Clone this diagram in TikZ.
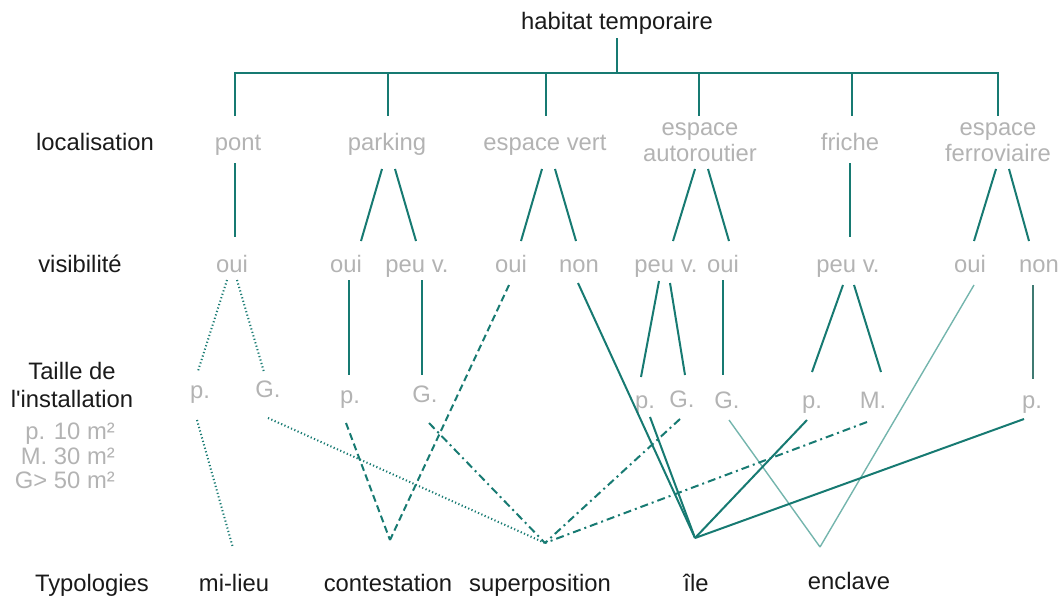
\documentclass[tikz,border=0pt]{standalone}
\usepackage{fontspec}
\setmainfont{Liberation Sans}
\usetikzlibrary{calc}
\definecolor{teal1}{HTML}{177A72}
\definecolor{tealdk}{HTML}{3F7A72}
\definecolor{teallt}{HTML}{74B5AD}
\definecolor{txtgray}{HTML}{B3B3B3}
\definecolor{txtblk}{HTML}{1A1A1A}
\begin{document}
\begin{tikzpicture}[x=1pt,y=-1pt,
  every node/.style={font=\fontsize{23.8}{26}\selectfont, inner sep=0pt},
  one/.style={text height=17pt, text depth=1pt},
  hd/.style={text=txtblk, one},
  gr/.style={text=txtgray, one},
  hdm/.style={text=txtblk, align=center},
  grm/.style={text=txtgray, align=center},
  cn/.style={draw=teal1, line width=2pt},
  dotl/.style={cn, line width=2pt, dash pattern=on 1.2pt off 2.4pt},
  dashl/.style={cn, dash pattern=on 7pt off 4pt},
  dashdotl/.style={cn, dash pattern=on 8pt off 4pt on 2pt off 4pt},
  thinl/.style={draw=teallt, line width=1.4pt},
  darkl/.style={draw=tealdk, line width=2pt}]
\useasboundingbox (0,0) rectangle (1062,597);
% titles
\node[hd] (top) at (617,21) {habitat temporaire};
\node[hd] (hloc) at (95,142) {localisation};
\node[hd] (hvis) at (80,264) {visibilité};
\node[hdm, font=\fontsize{23.8}{28}\selectfont] (htaille) at (72,385) {Taille de\\l\textquotesingle installation};
\node[grm, align=right, anchor=east, font=\fontsize{23.8}{24.5}\selectfont] (leg) at (115,456) {p. 10 m²\\M. 30 m²\\G> 50 m²};
\node[hd] (htyp) at (92,583) {Typologies};
% level 1
\node[gr] (pont) at (238,142) {pont};
\node[gr] (park) at (387,142) {parking};
\node[gr] (ev) at (545,142) {espace vert};
\node[grm, font=\fontsize{23.8}{26}\selectfont] (au) at (700,142) {espace\\autoroutier};
\node[gr] (fr) at (850,142) {friche};
\node[grm, font=\fontsize{23.8}{26}\selectfont] (fe) at (998,142) {espace\\ferroviaire};
% level 2
\node[gr] (ponto) at (232,264) {oui};
\node[gr] (pkoui) at (346,264) {oui};
\node[gr] (pkpeu) at (417,264) {peu v.};
\node[gr] (evoui) at (511,264) {oui};
\node[gr] (evnon) at (579,264) {non};
\node[gr] (aupeu) at (666,264) {peu v.};
\node[gr] (auoui) at (723,264) {oui};
\node[gr] (frpeu) at (848,264) {peu v.};
\node[gr] (feoui) at (970,264) {oui};
\node[gr] (fenon) at (1039,264) {non};
% level 3
\node[gr] (pp) at (200,390) {p.};
\node[gr] (pg) at (268,389) {G.};
\node[gr] (kp) at (350,395) {p.};
\node[gr] (kg) at (425,394) {G.};
\node[gr] (ap) at (645,400) {p.};
\node[gr] (ag) at (682,399) {G.};
\node[gr] (ag2) at (727,400) {G.};
\node[gr] (fp) at (812,400) {p.};
\node[gr] (fm) at (873,400) {M.};
\node[gr] (ep) at (1032,400) {p.};
% typologies
\node[hd] (mil) at (234,583) {mi-lieu};
\node[hd] (con) at (388,583) {contestation};
\node[hd] (sup) at (540,583) {superposition};
\node[hd] (ile) at (696,583) {île};
\node[hd] (enc) at (849,581) {enclave};
\coordinate (cmil) at (233,548);
\coordinate (ccon) at (390,540);
\coordinate (csup) at (545,543);
\coordinate (cile) at (695,538);
\coordinate (cenc) at (820,547);
% top tree
\coordinate (bar) at (617,73);
\draw[cn] ($(top)+(0,17)$) -- (bar);
\draw[cn] ($(pont)+(-3,-26)$) -- ($(pont)+(-3,-69)$) -- ($(fe)+(0,-69)$) -- ($(fe)+(0,-26)$);
\draw[cn] ($(park)+(1,-69)$) -- ($(park)+(1,-26)$);
\draw[cn] ($(ev)+(1,-69)$) -- ($(ev)+(1,-26)$);
\draw[cn] ($(au)+(-1,-69)$) -- ($(au)+(-1,-26)$);
\draw[cn] ($(fr)+(2,-69)$) -- ($(fr)+(2,-26)$);
% level 1 -> 2
\draw[cn] ($(pont)+(-3,21)$) -- ($(ponto)+(3,-27)$);
\draw[cn] ($(park)+(-5,27)$) -- ($(pkoui)+(15,-23)$);
\draw[cn] ($(park)+(8,27)$) -- ($(pkpeu)+(-1,-23)$);
\draw[cn] ($(ev)+(-3,27)$) -- ($(evoui)+(10,-23)$);
\draw[cn] ($(ev)+(10,27)$) -- ($(evnon)+(-3,-23)$);
\draw[cn] ($(au)+(-5,27)$) -- ($(aupeu)+(7,-23)$);
\draw[cn] ($(au)+(8,27)$) -- ($(auoui)+(6,-23)$);
\draw[cn] ($(fr)+(0,21)$) -- ($(frpeu)+(2,-27)$);
\draw[cn] ($(fe)+(-2,27)$) -- ($(feoui)+(4,-23)$);
\draw[cn] ($(fe)+(11,27)$) -- ($(fenon)+(-10,-23)$);
% level 2 -> 3
\draw[dotl] ($(ponto)+(-5,16)$) -- ($(pp)+(-2,-19)$);
\draw[dotl] ($(ponto)+(5,16)$) -- ($(pg)+(-4,-17)$);
\draw[cn] ($(pkoui)+(3,16)$) -- ($(kp)+(-1,-20)$);
\draw[cn] ($(pkpeu)+(5,16)$) -- ($(kg)+(-3,-19)$);
\draw[dashl] ($(evoui)+(-2,21)$) -- (ccon);
\draw[cn] ($(evnon)+(-1,19)$) -- (cile);
\draw[cn] ($(aupeu)+(-7,17)$) -- ($(ap)+(-4,-23)$);
\draw[cn] ($(aupeu)+(4,19)$) -- ($(ag)+(3,-24)$);
\draw[cn] ($(auoui)+(0,16)$) -- ($(ag2)+(-4,-25)$);
\draw[cn] ($(frpeu)+(-5,21)$) -- ($(fp)+(0,-28)$);
\draw[cn] ($(frpeu)+(6,21)$) -- ($(fm)+(8,-28)$);
\draw[thinl] ($(feoui)+(4,21)$) -- (cenc);
\draw[darkl] ($(fenon)+(-6,21)$) -- ($(ep)+(1,-21)$);
% level 3 -> typologies
\draw[dotl] ($(pp)+(-3,30)$) -- (cmil);
\draw[dotl] ($(pg)+(0,29)$) -- (csup);
\draw[dashl] ($(kp)+(-4,28)$) -- (ccon);
\draw[dashdotl] ($(kg)+(4,29)$) -- (csup);
\draw[cn] ($(ap)+(5,17)$) -- (cile);
\draw[dashdotl] ($(ag)+(-2,20)$) -- (csup);
\draw[thinl] ($(ag2)+(2,20)$) -- (cenc);
\draw[cn] ($(fp)+(-5,20)$) -- (cile);
\draw[dashdotl] ($(fm)+(-6,22)$) -- (csup);
\draw[cn] ($(ep)+(-8,19)$) -- (cile);
\end{tikzpicture}
\end{document}
